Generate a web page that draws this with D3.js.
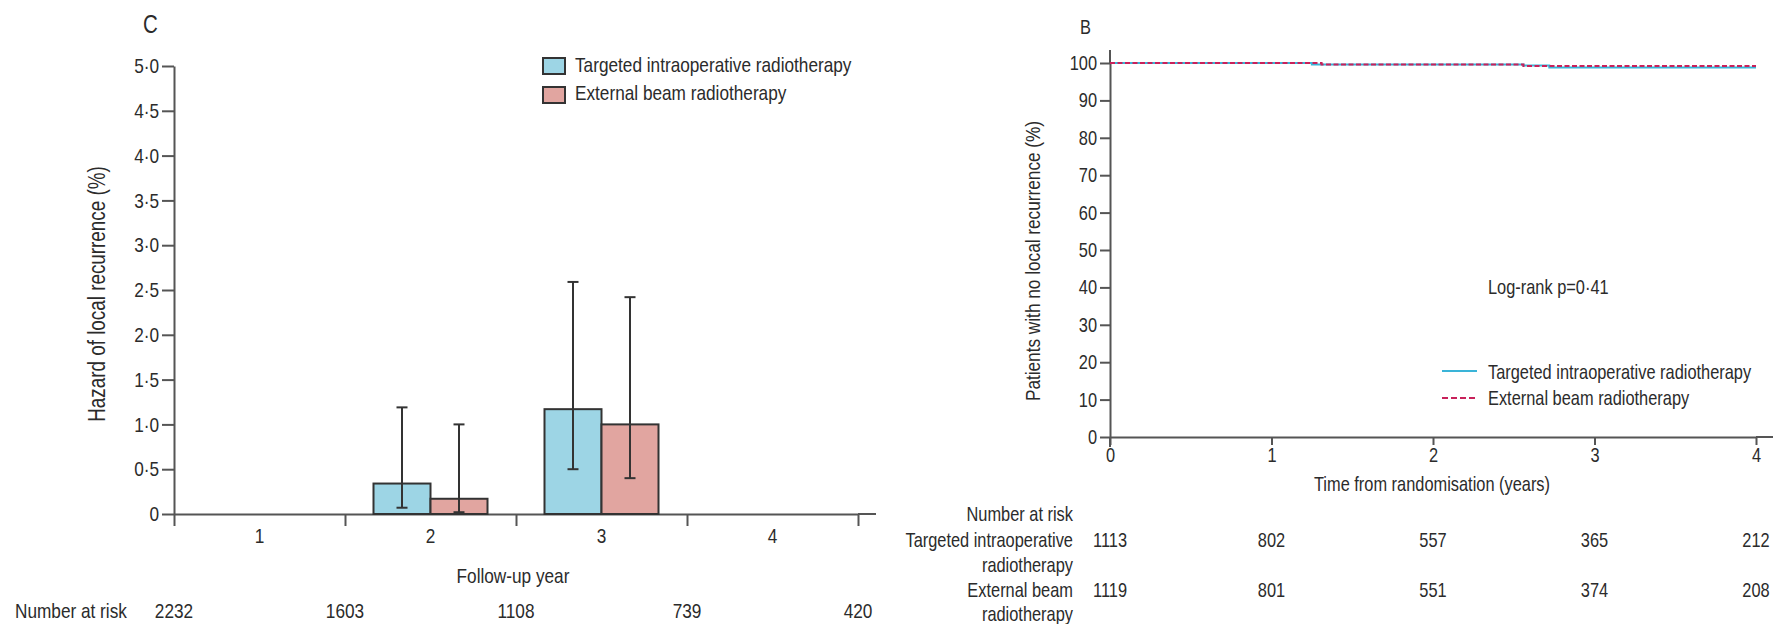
<!DOCTYPE html>
<html>
<head>
<meta charset="utf-8">
<script src="https://cdn.jsdelivr.net/npm/d3@7"></script>
<style>
  body { margin: 0; background: #fff; }
  svg text { font-family: "Liberation Sans", Arial, sans-serif; fill: #2b2b2b; }
  .axis path, .axis line { stroke: #555; stroke-width: 2; }
</style>
</head>
<body>
<svg id="chart"></svg>
<script>
// panel C: yearly hazard of local recurrence
const years = [1, 2, 3, 4];
const hazardTargit = [0, 0.34, 1.17, 0];
const hazardEbrt = [0, 0.17, 1.0, 0];
const targitLower = [null, 0.07, 0.5, null];
const targitUpper = [null, 1.19, 2.59, null];
const ebrtLower = [null, 0.02, 0.4, null];
const ebrtUpper = [null, 1.0, 2.42, null];
const hazardTicks = [0, 0.5, 1, 1.5, 2, 2.5, 3, 3.5, 4, 4.5, 5];
const riskBoundaries = [0, 1, 2, 3, 4];
const riskAll = [2232, 1603, 1108, 739, 420];

// panel B: Kaplan-Meier, no local recurrence
const targitTimes = [0, 1.25, 2.56, 2.72, 4];
const targitSurv = [100, 99.6, 99.3, 98.8, 98.8];
const ebrtTimes = [0, 1.31, 2.56, 4];
const ebrtSurv = [100, 99.6, 99.2, 99.2];
const kmYTicks = [0, 10, 20, 30, 40, 50, 60, 70, 80, 90, 100];
const kmXTicks = [0, 1, 2, 3, 4];
const riskTargit = [1113, 802, 557, 365, 212];
const riskEbrt = [1119, 801, 551, 374, 208];

const seriesNames = ["Targeted intraoperative radiotherapy", "External beam radiotherapy"];
const blueFill = "#9dd5e5", redFill = "#e1a5a0";
const blueLine = "#3ab4d8", redLine = "#c8215a";

const svg = d3.select("#chart").attr("width", 1778).attr("height", 624);

// ---------- left panel ----------
const xL = d3.scaleLinear().domain([0, 4]).range([174, 858]);
const yL = d3.scaleLinear().domain([0, 5]).range([514, 66]);
const fmtDot = d => d === 0 ? "0" : d.toFixed(1).replace(".", "\u00b7");

svg.append("text").attr("x", 143).attr("y", 33).style("font-size", "25px").text("C");

svg.append("g").attr("class", "axis")
  .attr("transform", "translate(" + xL(0) + ",0)")
  .call(d3.axisLeft(yL).tickValues(hazardTicks).tickFormat(fmtDot)
    .tickSizeInner(12).tickSizeOuter(0).tickPadding(3))
  .call(g => g.selectAll("text").style("font-size", "21px"));

const xAxisL = svg.append("g").attr("class", "axis")
  .attr("transform", "translate(0," + yL(0) + ")")
  .call(d3.axisBottom(xL).tickValues(riskBoundaries).tickFormat("")
    .tickSizeInner(12).tickSizeOuter(0));
xAxisL.append("line").attr("x1", xL(4)).attr("x2", xL(4) + 18).attr("y1", 0).attr("y2", 0);

svg.append("g").selectAll("text").data(years).join("text")
  .attr("x", d => xL(d - 0.5)).attr("y", 543)
  .attr("text-anchor", "middle").style("font-size", "21px").text(d => d);

const bw = (xL(1) - xL(0)) / 3;
const barData = [];
years.forEach((yr, i) => {
  barData.push({ yr: yr, v: hazardTargit[i], lo: targitLower[i], hi: targitUpper[i], side: -1, fill: blueFill });
  barData.push({ yr: yr, v: hazardEbrt[i], lo: ebrtLower[i], hi: ebrtUpper[i], side: 1, fill: redFill });
});
const shown = barData.filter(d => d.v > 0);

svg.append("g").selectAll("rect").data(shown).join("rect")
  .attr("x", d => d.side < 0 ? xL(d.yr - 0.5) - bw : xL(d.yr - 0.5))
  .attr("y", d => yL(d.v))
  .attr("width", bw)
  .attr("height", d => yL(0) - yL(d.v))
  .attr("fill", d => d.fill)
  .attr("stroke", "#333").attr("stroke-width", 2);

const err = svg.append("g").attr("stroke", "#333").attr("stroke-width", 2);
shown.forEach(d => {
  const cx = xL(d.yr - 0.5) + d.side * bw / 2;
  err.append("line").attr("x1", cx).attr("x2", cx).attr("y1", yL(d.lo)).attr("y2", yL(d.hi));
  [d.lo, d.hi].forEach(v => {
    err.append("line").attr("x1", cx - 5.5).attr("x2", cx + 5.5).attr("y1", yL(v)).attr("y2", yL(v));
  });
});

svg.append("text")
  .attr("transform", "translate(97," + 294 + ") rotate(-90)")
  .attr("text-anchor", "middle").attr("dy", "0.35em")
  .style("font-size", "23px").text("Hazard of local recurrence (%)");

svg.append("text").attr("x", 513).attr("y", 583).attr("text-anchor", "middle")
  .style("font-size", "21px").text("Follow-up year");

const legL = svg.append("g");
[blueFill, redFill].forEach((c, i) => {
  legL.append("rect").attr("x", 543).attr("y", 58 + i * 29).attr("width", 22).attr("height", 16)
    .attr("fill", c).attr("stroke", "#333").attr("stroke-width", 2);
  legL.append("text").attr("x", 575).attr("y", 72 + i * 28).style("font-size", "21px").text(seriesNames[i]);
});

svg.append("text").attr("x", 15).attr("y", 618).style("font-size", "21px").text("Number at risk");
svg.append("g").selectAll("text").data(riskAll).join("text")
  .attr("x", (d, i) => xL(riskBoundaries[i])).attr("y", 618)
  .attr("text-anchor", "middle").style("font-size", "21px").text(d => d);

// ---------- right panel ----------
const xR = d3.scaleLinear().domain([0, 4]).range([1110, 1756]);
const yR = d3.scaleLinear().domain([0, 100]).range([437, 63]);

svg.append("text").attr("x", 1080).attr("y", 34).style("font-size", "20px").text("B");

const yAxisR = svg.append("g").attr("class", "axis")
  .attr("transform", "translate(" + xR(0) + ",0)")
  .call(d3.axisLeft(yR).tickValues(kmYTicks).tickSizeInner(10).tickSizeOuter(0).tickPadding(3))
  .call(g => g.selectAll("text").style("font-size", "20px"));
yAxisR.append("line").attr("x1", 0).attr("x2", 0).attr("y1", yR(100)).attr("y2", yR(100) - 13);
yAxisR.append("line").attr("x1", 0).attr("x2", 0).attr("y1", yR(0)).attr("y2", yR(0) + 10);

const xAxisR = svg.append("g").attr("class", "axis")
  .attr("transform", "translate(0," + yR(0) + ")")
  .call(d3.axisBottom(xR).tickValues(kmXTicks).tickFormat(d3.format("d"))
    .tickSizeInner(8).tickSizeOuter(0).tickPadding(3))
  .call(g => g.selectAll("text").style("font-size", "20px"));
xAxisR.append("line").attr("x1", xR(4)).attr("x2", xR(4) + 17).attr("y1", 0).attr("y2", 0);

const km = (times, surv) => d3.line()
  .x((d, i) => xR(times[i])).y(d => yR(d))
  .curve(d3.curveStepAfter)(surv);

svg.append("path").attr("d", km(targitTimes, targitSurv))
  .attr("fill", "none").attr("stroke", blueLine).attr("stroke-width", 2);
svg.append("path").attr("d", km(ebrtTimes, ebrtSurv))
  .attr("fill", "none").attr("stroke", redLine).attr("stroke-width", 2)
  .attr("stroke-dasharray", "5,2.5");

svg.append("text")
  .attr("transform", "translate(1033,261) rotate(-90)")
  .attr("text-anchor", "middle").attr("dy", "0.35em")
  .style("font-size", "21px").text("Patients with no local recurrence (%)");

svg.append("text").attr("x", 1432).attr("y", 491).attr("text-anchor", "middle")
  .style("font-size", "20px").text("Time from randomisation (years)");

svg.append("text").attr("x", 1488).attr("y", 294).style("font-size", "20px").text("Log-rank p=0\u00b741");

const legR = svg.append("g");
[[blueLine, null], [redLine, "6,3"]].forEach((s, i) => {
  legR.append("line").attr("x1", 1442).attr("x2", 1477)
    .attr("y1", 371 + i * 27).attr("y2", 371 + i * 27)
    .attr("stroke", s[0]).attr("stroke-width", 2).attr("stroke-dasharray", s[1]);
  legR.append("text").attr("x", 1488).attr("y", 379 + i * 26).style("font-size", "20px").text(seriesNames[i]);
});

const riskLabels = [["Number at risk", 521], ["Targeted intraoperative", 547], ["radiotherapy", 572],
                    ["External beam", 597], ["radiotherapy", 621]];
svg.append("g").selectAll("text").data(riskLabels).join("text")
  .attr("x", 1073).attr("y", d => d[1]).attr("text-anchor", "end")
  .style("font-size", "20px").text(d => d[0]);

[[riskTargit, 547], [riskEbrt, 597]].forEach(r => {
  svg.append("g").selectAll("text").data(r[0]).join("text")
    .attr("x", (d, i) => xR(kmXTicks[i])).attr("y", r[1])
    .attr("text-anchor", "middle").style("font-size", "20px").text(d => d);
});

// the journal face is a narrow sans: squeeze the Arial-metric text horizontally
const squeeze = 0.82;
svg.selectAll("text").each(function() {
  const t = d3.select(this);
  const x = +(t.attr("x") || 0);
  const tr = t.attr("transform") || "";
  t.attr("x", x / squeeze).attr("transform", (tr + " scale(" + squeeze + ",1)").trim());
});
</script>
</body>
</html>
